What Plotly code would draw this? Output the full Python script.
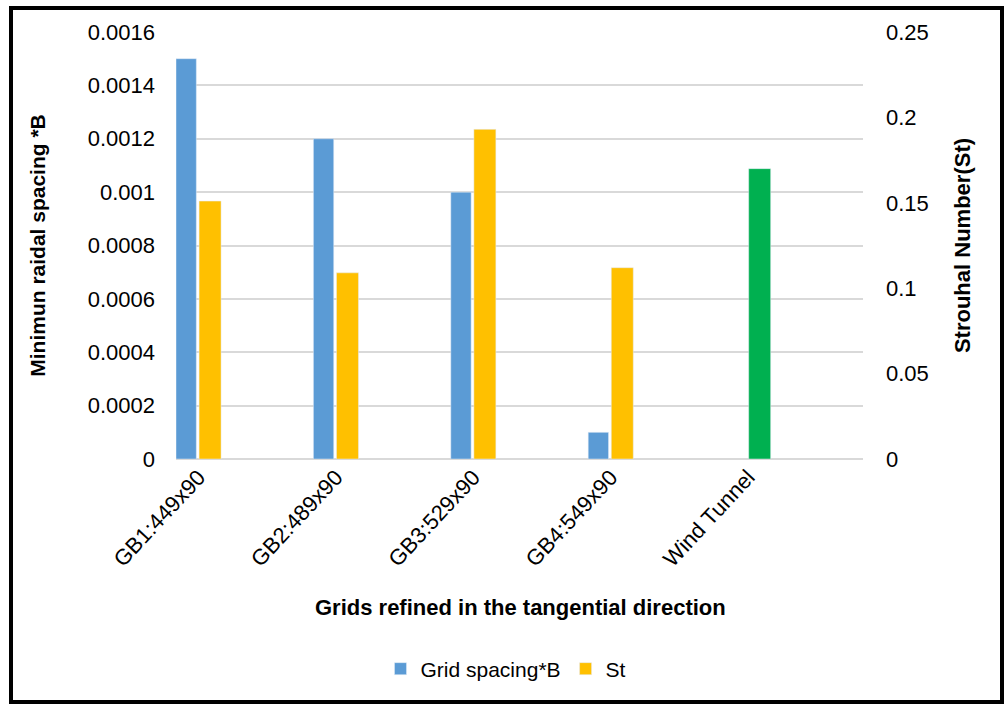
import plotly.graph_objects as go

categories = ["GB1:449x90", "GB2:489x90", "GB3:529x90", "GB4:549x90", "Wind Tunnel"]
grid_spacing = [0.0015, 0.0012, 0.001, 0.0001, None]
strouhal = [0.151, 0.109, 0.193, 0.112, 0.17]
st_colors = ["#ffc000", "#ffc000", "#ffc000", "#ffc000", "#00b050"]

W, H = 1008, 704
L, R, T, B = 176, 863, 32, 459  # plot area in pixels


def px_x(x):
    return (x - L) / (R - L)


def px_y(y):
    return (B - y) / (B - T)


font = "Liberation Sans, Arial, sans-serif"

fig = go.Figure()
fig.add_trace(go.Bar(x=categories, y=grid_spacing, name="Grid spacing*B",
                     marker_color="#5b9bd5", offset=-0.164, width=0.148,
                     yaxis="y"))
fig.add_trace(go.Bar(x=categories, y=strouhal, name="St",
                     marker_color=st_colors, offset=0.004, width=0.16,
                     yaxis="y2"))

fig.update_layout(
    width=W, height=H,
    margin=dict(l=L, r=W - R, t=T, b=H - B),
    paper_bgcolor="white", plot_bgcolor="white",
    font=dict(family=font, color="black", size=22),
    barmode="overlay",
    showlegend=True,
    legend=dict(orientation="h", x=px_x(506), y=px_y(669), xanchor="center",
                yanchor="middle", font=dict(size=21), itemwidth=30,
                tracegroupgap=0),
    xaxis=dict(type="category", range=[-0.164, 4.836], tickangle=-47,
               showgrid=False, showline=False, ticks="",
               tickfont=dict(size=22)),
    yaxis=dict(range=[0, 0.0016], dtick=0.0002, tickformat="~g",
               showgrid=True, gridcolor="#d9d9d9", gridwidth=1.5,
               zeroline=True, zerolinecolor="#d9d9d9", zerolinewidth=2,
               ticks="", ticklabelstandoff=20,
               title=dict(text="<b>Minimun raidal spacing *B</b>",
                          font=dict(size=21), standoff=36)),
    yaxis2=dict(range=[0, 0.25], dtick=0.05, tickformat="~g",
                overlaying="y", side="right", showgrid=False,
                zeroline=False, ticks="", ticklabelstandoff=22,
                title=dict(text="<b>Strouhal Number(St)</b>",
                           font=dict(size=22), standoff=26)),
)

fig.add_annotation(text="<b>Grids refined in the tangential direction</b>",
                   xref="paper", yref="paper", x=px_x(520), y=px_y(607),
                   xanchor="center", yanchor="middle", showarrow=False,
                   font=dict(size=22))

# frame around the whole chart
fig.add_shape(type="rect", xref="paper", yref="paper",
              x0=px_x(11), x1=px_x(1002), y0=px_y(702), y1=px_y(8),
              line=dict(color="black", width=4))

fig.write_html("out.html", config={"displayModeBar": False},
               post_script="document.body.style.margin='0';")
